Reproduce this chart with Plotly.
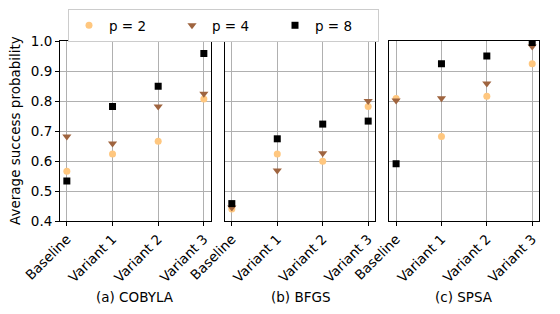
import plotly.graph_objects as go

categories = ["Baseline", "Variant 1", "Variant 2", "Variant 3"]
optimizers = ["(a) COBYLA", "(b) BFGS", "(c) SPSA"]
series_names = ["p = 2", "p = 4", "p = 8"]

cobyla_p2 = [0.566, 0.623, 0.666, 0.807]
cobyla_p4 = [0.682, 0.658, 0.782, 0.824]
cobyla_p8 = [0.533, 0.782, 0.849, 0.958]

bfgs_p2 = [0.440, 0.623, 0.599, 0.782]
bfgs_p4 = [0.445, 0.568, 0.626, 0.800]
bfgs_p8 = [0.458, 0.674, 0.723, 0.733]

spsa_p2 = [0.808, 0.682, 0.816, 0.924]
spsa_p4 = [0.802, 0.809, 0.858, 0.982]
spsa_p8 = [0.591, 0.924, 0.950, 0.995]

y_ticks = [0.4, 0.5, 0.6, 0.7, 0.8, 0.9, 1.0]

panels = [
    [cobyla_p2, cobyla_p4, cobyla_p8],
    [bfgs_p2, bfgs_p4, bfgs_p8],
    [spsa_p2, spsa_p4, spsa_p8],
]

colors = ["#ffc77f", "#9f643f", "#000000"]
symbols = ["circle", "triangle-down", "square"]
sizes = [7, 8, 7]

# The page body has an 8px margin; lay out in window pixels and convert.
OFF = 8
W, H = 560 - OFF, 314 - OFF
FONT = "DejaVu Sans"
FS = 13.5


def px(x):
    return (x - OFF) / W


def py(y):
    return 1 - (y - OFF) / H


xdomains = [[px(60), px(210.7)], [px(225), px(375)], [px(389.3), px(539)]]
ydomain = [py(221), py(41)]

fig = go.Figure()
xpos = list(range(len(categories)))
for pi, panel in enumerate(panels):
    suffix = "" if pi == 0 else str(pi + 1)
    for si, vals in enumerate(panel):
        fig.add_trace(go.Scatter(
            x=xpos, y=vals, mode="markers",
            name=series_names[si],
            showlegend=(pi == 0),
            marker=dict(color=colors[si], symbol=symbols[si], size=sizes[si],
                        line=dict(width=0)),
            xaxis="x" + suffix, yaxis="y" + suffix,
        ))

axis_common = dict(
    showline=True, linecolor="black", linewidth=1, mirror=True,
    showgrid=True, gridcolor="#b0b0b0", gridwidth=0.8, zeroline=False,
    automargin=False,
)
layout = dict(
    width=W, height=H,
    margin=dict(l=0, r=0, t=0, b=0, autoexpand=False),
    plot_bgcolor="white", paper_bgcolor="white",
    font=dict(family=FONT, size=FS, color="black"),
    legend=dict(
        orientation="h", x=px(68), y=py(9), xanchor="left", yanchor="top",
        bordercolor="#cccccc", borderwidth=1, bgcolor="white",
        entrywidth=58, entrywidthmode="pixels",
        font=dict(family=FONT, size=FS),
    ),
)
for pi in range(3):
    suffix = "" if pi == 0 else str(pi + 1)
    layout["xaxis" + suffix] = dict(
        axis_common, domain=xdomains[pi], range=[-0.15, 3.15],
        tickvals=xpos, ticktext=categories, tickangle=-45,
        ticks="outside", ticklen=4, tickcolor="black",
        anchor="y" + suffix, tickfont=dict(family=FONT, size=FS),
    )
    ya = dict(
        axis_common, domain=ydomain, range=[0.4, 1.0],
        tickvals=y_ticks, anchor="x" + suffix,
    )
    if pi == 0:
        ya.update(ticks="outside", ticklen=4, tickcolor="black",
                  ticktext=[f"{v:.1f}" for v in y_ticks],
                  tickfont=dict(family=FONT, size=FS))
    else:
        ya.update(showticklabels=False, ticks="")
    layout["yaxis" + suffix] = ya

fig.update_layout(**layout)

annotations = []
for pi, name in enumerate(optimizers):
    cx = (xdomains[pi][0] + xdomains[pi][1]) / 2
    annotations.append(dict(
        text=name, x=cx, y=py(297), xref="paper", yref="paper",
        xanchor="center", yanchor="middle", showarrow=False,
        font=dict(family=FONT, size=FS),
    ))
annotations.append(dict(
    text="Average success probability", x=px(15), y=py(131),
    xref="paper", yref="paper", xanchor="center", yanchor="middle",
    textangle=-90, showarrow=False, font=dict(family=FONT, size=FS),
))
fig.update_layout(annotations=annotations)

fig.write_html("out.html")
